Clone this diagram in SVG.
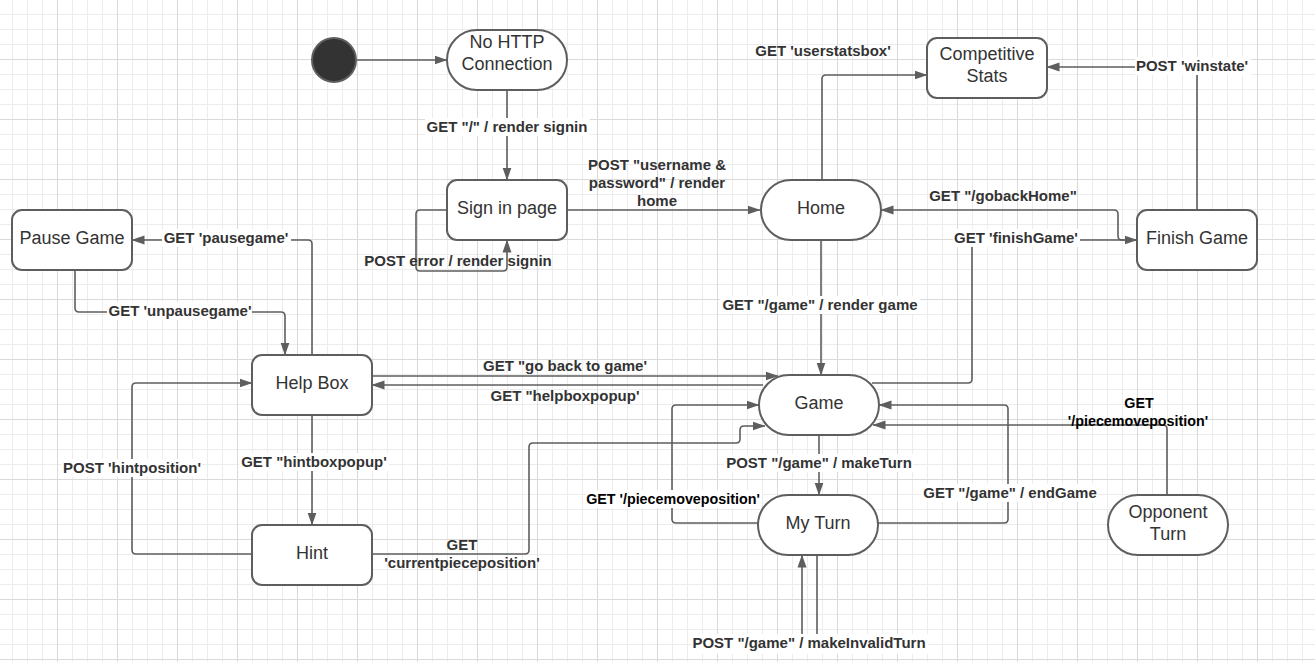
<svg xmlns="http://www.w3.org/2000/svg" width="1315" height="662" viewBox="0 0 1315 662">
<defs>
<pattern id="grid" patternUnits="userSpaceOnUse" x="57" y="59" width="60" height="60">
<rect x="15" y="0" width="1" height="60" fill="#ececec"/>
<rect x="30" y="0" width="1" height="60" fill="#ececec"/>
<rect x="45" y="0" width="1" height="60" fill="#ececec"/>
<rect x="0" y="15" width="60" height="1" fill="#ececec"/>
<rect x="0" y="30" width="60" height="1" fill="#ececec"/>
<rect x="0" y="45" width="60" height="1" fill="#ececec"/>
<rect x="0" y="0" width="1" height="60" fill="#dadada"/>
<rect x="0" y="0" width="60" height="1" fill="#dadada"/>
</pattern>
<marker id="arr" markerUnits="userSpaceOnUse" markerWidth="13" markerHeight="10" viewBox="0 0 13 10" refX="12.5" refY="5" orient="auto">
<path d="M0,0.5 L13,5 L0,9.5 z" fill="#5e5e5e"/>
</marker>
<style>
.node{fill:#fff;stroke:#5e5e5e;stroke-width:2}
.nt{font-family:"Liberation Sans",Arial,sans-serif;font-size:18px;fill:#333;text-anchor:middle}
.c{fill:none;stroke:#5e5e5e;stroke-width:1.6;marker-end:url(#arr)}
.lb{font-family:"Liberation Sans",Arial,sans-serif;font-size:15px;font-weight:bold;fill:#333;text-anchor:middle}
.lk{fill:#000;font-size:14.3px}
.bg{fill:#fff}
</style>
</defs>
<rect x="0" y="0" width="1315" height="662" fill="#fff"/>
<rect x="0" y="0" width="1315" height="662" fill="url(#grid)"/>

<g id="connectors">
<path class="c" d="M357,60 H447"/>
<path class="c" d="M507,90 V180"/>
<path class="c" d="M567,210 H760"/>
<path class="c" d="M447,210 H420 Q416,210 416,214 V267 Q416,271 420,271 H503 Q507,271 507,267 V240"/>
<path class="c" d="M822,180 V79 Q822,75 826,75 H927"/>
<path class="c" d="M1197,210 V71 Q1197,67 1193,67 H1047"/>
<path class="c" d="M1137,240 H1122 Q1118,240 1118,236 V214 Q1118,210 1114,210 H881"/>
<path class="c" d="M821,240 V375"/>
<path class="c" d="M872,383 H968 Q972,383 972,379 V244 Q972,240 976,240 H1137"/>
<path class="c" d="M372,376 H778"/>
<path class="c" d="M763,385 H372"/>
<path class="c" d="M819,435 V495"/>
<path class="c" d="M758,523 H676 Q672,523 672,519 V409 Q672,405 676,405 H759"/>
<path class="c" d="M878,523 H1004 Q1008,523 1008,519 V409 Q1008,405 1004,405 H879"/>
<path class="c" d="M1167,495 V429 Q1167,425 1163,425 H873"/>
<path class="c" d="M372,554 H525 Q529,554 529,550 V447 Q529,443 533,443 H736 Q740,443 740,439 V430 Q740,426 744,426 H765"/>
<path class="c" d="M312,355 V244 Q312,240 308,240 H132"/>
<path class="c" d="M75,270 V308 Q75,312 79,312 H281 Q285,312 285,316 V355"/>
<path class="c" d="M312,415 V525"/>
<path class="c" d="M252,554 H136 Q132,554 132,550 V387 Q132,383 136,383 H252"/>
<path class="c" d="M817,555 V645 Q817,649 813,649 H806 Q802,649 802,645 V555"/>

<rect class="bg" x="425" y="118" width="165" height="18"/>
<rect class="bg" x="1135" y="57" width="116" height="18"/>
<rect class="bg" x="953" y="229" width="127" height="18"/>
<rect class="bg" x="720" y="296" width="200" height="18"/>
<rect class="bg" x="162" y="229" width="129" height="18"/>
<rect class="bg" x="107" y="302" width="145" height="18"/>
<rect class="bg" x="239" y="453" width="150" height="18"/>
<rect class="bg" x="61" y="459" width="141" height="18"/>
<rect class="bg" x="724" y="454" width="189" height="18"/>
<rect class="bg" x="585" y="490" width="177" height="18"/>
<rect class="bg" x="921" y="484" width="177" height="18"/>
<rect class="bg" x="691" y="634" width="237" height="20"/>

<text class="lb" x="507" y="132">GET "/" / render signin</text>
<text class="lb" x="657" y="170">POST "username &amp;</text>
<text class="lb" x="657" y="188">password" / render</text>
<text class="lb" x="657" y="206">home</text>
<text class="lb" x="458" y="266">POST error / render signin</text>
<text class="lb" x="823" y="56">GET 'userstatsbox'</text>
<text class="lb" x="1192" y="71">POST 'winstate'</text>
<text class="lb" x="1003" y="201">GET "/gobackHome"</text>
<text class="lb" x="1016" y="243">GET 'finishGame'</text>
<text class="lb" x="820" y="310">GET "/game" / render game</text>
<text class="lb" x="226" y="243">GET 'pausegame'</text>
<text class="lb" x="180" y="316">GET 'unpausegame'</text>
<text class="lb" x="565" y="371">GET "go back to game'</text>
<text class="lb" x="565" y="401">GET "helpboxpopup'</text>
<text class="lb" x="314" y="467">GET "hintboxpopup'</text>
<text class="lb" x="132" y="473">POST 'hintposition'</text>
<text class="lb" x="462" y="550">GET</text>
<text class="lb" x="462" y="568">'currentpieceposition'</text>
<text class="lb" x="819" y="468">POST "/game" / makeTurn</text>
<text class="lb lk" x="673" y="504">GET '/piecemoveposition'</text>
<text class="lb" x="1010" y="498">GET "/game" / endGame</text>
<text class="lb lk" x="1139" y="408">GET</text>
<text class="lb lk" x="1138" y="426">'/piecemoveposition'</text>
<text class="lb" x="809" y="648">POST "/game" / makeInvalidTurn</text>
</g>

<g id="start"><circle cx="334" cy="60" r="22" fill="#333" stroke="#5e5e5e" stroke-width="2"/></g>
<g id="nohttp"><rect class="node" x="447" y="30" width="120" height="60" rx="30"/><text class="nt" x="507" y="48">No HTTP</text><text class="nt" x="507" y="70">Connection</text></g>
<g id="signin"><rect class="node" x="447" y="180" width="120" height="60" rx="10"/><text class="nt" x="507" y="214">Sign in page</text></g>
<g id="home"><rect class="node" x="761" y="180" width="120" height="60" rx="30"/><text class="nt" x="821" y="214">Home</text></g>
<g id="stats"><rect class="node" x="927" y="38" width="120" height="60" rx="10"/><text class="nt" x="987" y="60">Competitive</text><text class="nt" x="987" y="82">Stats</text></g>
<g id="finish"><rect class="node" x="1137" y="210" width="120" height="60" rx="10"/><text class="nt" x="1197" y="244">Finish Game</text></g>
<g id="pause"><rect class="node" x="12" y="210" width="120" height="60" rx="10"/><text class="nt" x="72" y="244">Pause Game</text></g>
<g id="help"><rect class="node" x="252" y="355" width="120" height="60" rx="10"/><text class="nt" x="312" y="389">Help Box</text></g>
<g id="game"><rect class="node" x="759" y="375" width="120" height="60" rx="30"/><text class="nt" x="819" y="409">Game</text></g>
<g id="hint"><rect class="node" x="252" y="525" width="120" height="60" rx="10"/><text class="nt" x="312" y="559">Hint</text></g>
<g id="myturn"><rect class="node" x="758" y="495" width="120" height="60" rx="30"/><text class="nt" x="818" y="529">My Turn</text></g>
<g id="opponent"><rect class="node" x="1108" y="495" width="120" height="60" rx="30"/><text class="nt" x="1168" y="518">Opponent</text><text class="nt" x="1168" y="540">Turn</text></g>
</svg>
